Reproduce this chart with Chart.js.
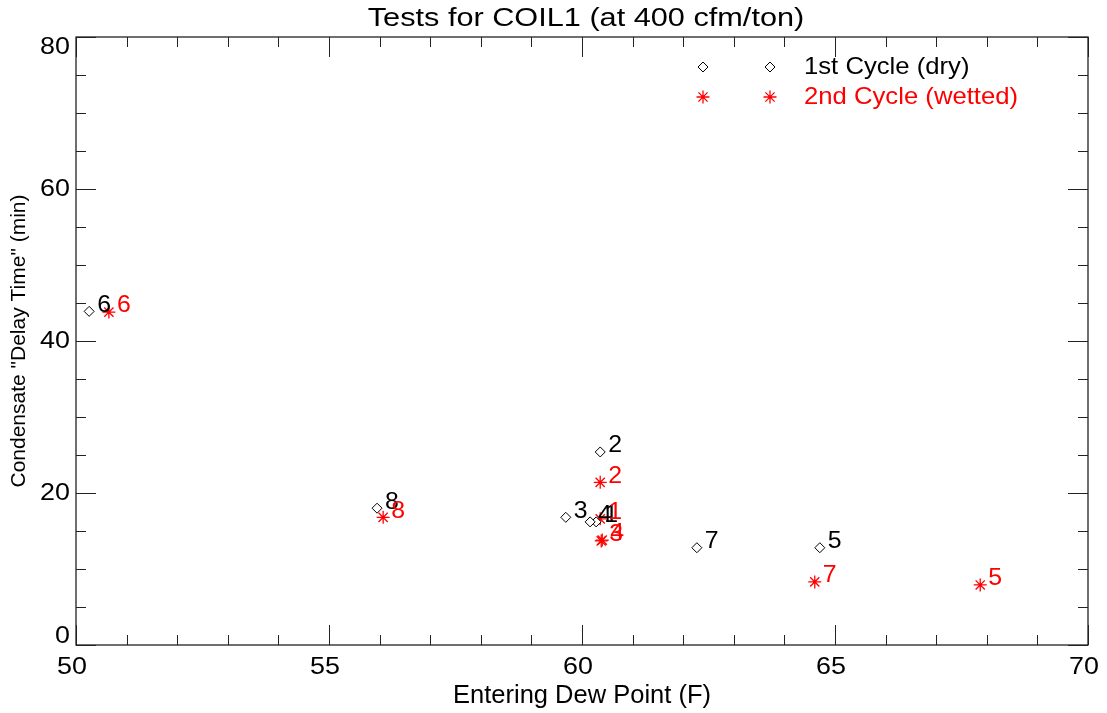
<!DOCTYPE html>
<html>
<head>
<meta charset="utf-8">
<script src="https://cdn.jsdelivr.net/npm/chart.js@4/dist/chart.umd.min.js"></script>
<style>
  body { margin: 0; background: #fff; }
  #wrap { width: 1107px; height: 713px; }
</style>
</head>
<body>
<div id="wrap"><canvas id="coilChart" width="1107" height="713"></canvas></div>
<script>
// test numbers, one per point
const testIds = ['1', '2', '3', '4', '5', '6', '7', '8'];

// 1st cycle (dry)
const dewDry = [60.28, 60.36, 59.68, 60.16, 64.70, 50.26, 62.27, 55.95];
const delayDry = [16.2, 25.4, 16.8, 16.2, 12.8, 43.9, 12.8, 18.0];

// 2nd cycle (wetted)
const dewWet = [60.36, 60.36, 60.38, 60.40, 67.87, 50.65, 64.60, 56.07];
const delayWet = [16.6, 21.4, 13.7, 13.8, 7.9, 43.8, 8.3, 16.8];

const xMajor = [50, 55, 60, 65, 70];
const yMajor = [0, 20, 40, 60, 80];

const titleText = 'Tests for COIL1 (at 400 cfm/ton)';
const xTitle = 'Entering Dew Point (F)';
const yTitle = 'Condensate "Delay Time" (min)';
const seriesNames = ['1st Cycle (dry)', '2nd Cycle (wetted)'];

const FONT = "'Liberation Sans', Arial, Helvetica, sans-serif";

function pts(xs, ys) {
  const out = [];
  for (let i = 0; i < xs.length; i++) out.push({ x: xs[i], y: ys[i] });
  return out;
}

function txt(ctx, s, x, y, size, color, align, sx, rot) {
  ctx.save();
  ctx.font = size + 'px ' + FONT;
  ctx.fillStyle = color;
  ctx.textAlign = align || 'center';
  ctx.textBaseline = 'middle';
  ctx.translate(x, y);
  if (rot) ctx.rotate(-Math.PI / 2);
  ctx.scale(sx || 1, 1);
  ctx.fillText(s, 0, 0);
  ctx.restore();
}

function symbol(ctx, ds, x, y) {
  const opts = {
    pointStyle: ds.pointStyle, radius: ds.pointRadius, rotation: 0,
    borderWidth: ds.borderWidth
  };
  ctx.save();
  ctx.strokeStyle = ds.borderColor;
  ctx.fillStyle = ds.backgroundColor;
  ctx.lineWidth = ds.borderWidth;
  if (Chart.helpers && Chart.helpers.drawPoint) {
    Chart.helpers.drawPoint(ctx, opts, x, y);
  }
  ctx.restore();
}

// IDL-like frame: inward ticks on all four sides, labels, titles, legend
const framePlugin = {
  id: 'frame',
  afterDraw(chart) {
    const ctx = chart.ctx;
    const a = chart.chartArea;
    const xs = chart.scales.x, ys = chart.scales.y;

    ctx.save();
    ctx.strokeStyle = '#222';
    ctx.lineWidth = 1.3;
    ctx.strokeRect(a.left, a.top, a.right - a.left, a.bottom - a.top);

    ctx.beginPath();
    for (let v = xs.min; v <= xs.max; v += 1) {
      const px = Math.round(xs.getPixelForValue(v)) + 0.5;
      const len = xMajor.includes(v) ? 20 : 10;
      ctx.moveTo(px, a.bottom); ctx.lineTo(px, a.bottom - len);
      ctx.moveTo(px, a.top); ctx.lineTo(px, a.top + len);
    }
    for (let v = ys.min; v <= ys.max; v += 5) {
      const py = Math.round(ys.getPixelForValue(v)) + 0.5;
      const len = yMajor.includes(v) ? 20 : 10;
      ctx.moveTo(a.left, py); ctx.lineTo(a.left + len, py);
      ctx.moveTo(a.right, py); ctx.lineTo(a.right - len, py);
    }
    ctx.lineWidth = 1;
    ctx.stroke();
    ctx.restore();

    xMajor.forEach(v => {
      txt(ctx, String(v), xs.getPixelForValue(v) - 4, a.bottom + 22, 24, '#000', 'center', 1.12);
    });
    yMajor.forEach(v => {
      let py = ys.getPixelForValue(v);
      py = Math.min(Math.max(py, a.top + 10), a.bottom - 9);
      txt(ctx, String(v), a.left - 6, py, 24, '#000', 'right', 1.12);
    });

    txt(ctx, titleText, 586, 19, 26, '#000', 'center', 1.18);
    txt(ctx, xTitle, 582, 696, 25, '#000', 'center', 1.02);
    txt(ctx, yTitle, 19, (a.top + a.bottom) / 2, 21, '#000', 'center', 1, true);

    // legend: two symbols then the name
    const rows = [67, 97];
    chart.data.datasets.forEach((ds, i) => {
      symbol(ctx, ds, 703, rows[i]);
      symbol(ctx, ds, 770, rows[i]);
      txt(ctx, seriesNames[i], 804, rows[i], 24, ds.borderColor, 'left', 1.07);
    });
  },
  afterDatasetsDraw(chart) {
    const ctx = chart.ctx;
    chart.data.datasets.forEach((ds, i) => {
      const meta = chart.getDatasetMeta(i);
      meta.data.forEach((el, j) => {
        txt(ctx, testIds[j], el.x + 8, el.y - 6, 23, ds.borderColor, 'left', 1.08);
      });
    });
  }
};

new Chart(document.getElementById('coilChart'), {
  type: 'scatter',
  data: {
    datasets: [
      {
        label: seriesNames[0],
        data: pts(dewDry, delayDry),
        pointStyle: 'rectRot',
        pointRadius: 5,
        borderWidth: 1,
        borderColor: '#000000',
        backgroundColor: '#ffffff'
      },
      {
        label: seriesNames[1],
        data: pts(dewWet, delayWet),
        pointStyle: 'star',
        pointRadius: 6.5,
        borderWidth: 1.3,
        borderColor: '#ff0000',
        backgroundColor: '#ff0000'
      }
    ]
  },
  options: {
    responsive: false,
    animation: false,
    devicePixelRatio: 1,
    layout: { padding: { left: 76, right: 19, top: 37, bottom: 68 } },
    plugins: { legend: { display: false }, tooltip: { enabled: false }, title: { display: false } },
    scales: {
      x: { type: 'linear', min: 50, max: 70, display: false },
      y: { type: 'linear', min: 0, max: 80, display: false }
    }
  },
  plugins: [framePlugin]
});
</script>
</body>
</html>
